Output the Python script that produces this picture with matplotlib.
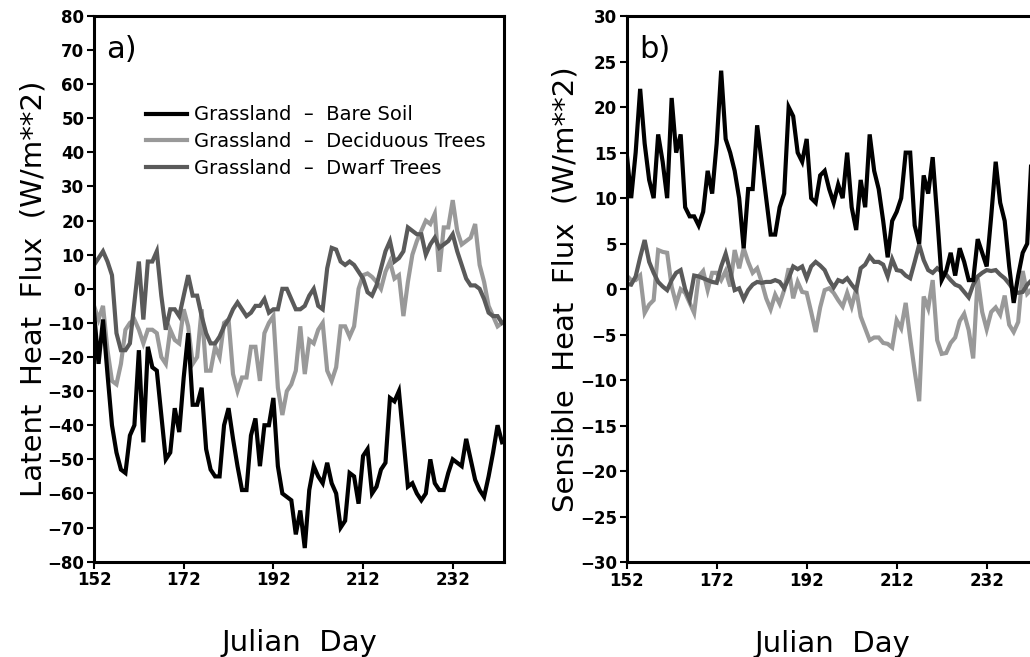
import numpy as np
import matplotlib
matplotlib.use("Agg")
import matplotlib.pyplot as plt

# julian days 152..243
days = np.arange(152, 244)

# latent heat flux differences (W/m**2)
lh_bare = [-7, -22, -9, -25, -40, -48, -53, -54, -43, -40,
           -18, -45, -17, -23, -24, -37, -50, -48, -35, -42,
           -26, -13, -34, -34, -29, -47, -53, -55, -55, -40,
           -35, -44, -52, -59, -59, -43, -38, -52, -40, -40,
           -32, -52, -60, -61, -62, -72, -65, -76, -59, -52,
           -55, -57, -51, -57, -60, -70, -68, -54, -55, -63,
           -49, -47, -60, -58, -53, -51, -32, -33, -30, -44,
           -58, -57, -60, -62, -60, -50, -57, -59, -59, -54,
           -50, -51, -52, -44, -50, -56, -59, -61, -55, -48,
           -40, -45]
lh_decid = [-5, -9, -5, -18, -27, -28, -22, -12, -10, -9,
            -12, -16, -12, -12, -13, -20, -22, -12, -15, -16,
            -6, -11, -22, -20, -6, -24, -24, -17, -20, -10,
            -9, -25, -30, -26, -26, -17, -17, -27, -13, -10,
            -8, -29, -37, -30, -28, -24, -11, -25, -15, -16,
            -12, -10, -24, -27, -23, -11, -11, -14, -11, 0,
            4, 4.5, 3.5, 2, 0, 5, 8, 3, 4, -8,
            2, 10, 14, 17, 20, 19, 22, 5, 18, 18,
            26, 17, 13, 14, 15, 19, 7, 2, -5, -8,
            -11, -10]
lh_dwarf = [7, 9, 11, 8, 4, -13, -18, -18, -16, -4,
            8, -9, 8, 8, 11, -2, -12, -6, -6, -8,
            -2, 4, -2, -2, -8, -13, -16, -16, -14, -11,
            -9, -6, -4, -6, -8, -7, -5, -5, -3, -7,
            -6, -6, 0, 0, -3, -6, -6, -5, -2, 0,
            -5, -6, 6, 12, 11.5, 8, 7, 8, 7, 5,
            3, -1, -2, 1, 6, 11, 14, 8, 9, 11,
            18, 17, 16, 16, 10, 13, 15, 12, 13, 14,
            16, 11, 7, 3, 1, 1, 0, -3, -7, -8,
            -8, -10]

# sensible heat flux differences (W/m**2)
sh_bare = [15, 10, 15, 22, 16, 12, 10, 17, 14, 10,
           21, 15, 17, 9, 8, 8, 7, 8.5, 13, 10.5,
           16, 24, 16.5, 15, 13, 10, 4.5, 11, 11, 18,
           14, 10, 6, 6, 9, 10.5, 20, 19, 15, 14,
           16.5, 10, 9.5, 12.5, 13, 11, 9.5, 11.5, 10, 15,
           9, 6.5, 12, 9, 17, 13, 11, 7.5, 3.5, 7.5,
           8.5, 10, 15, 15, 7, 5, 12.5, 10.5, 14.5, 8,
           1, 2, 4, 1.5, 4.5, 3, 1, 1, 5.5, 4,
           2.5, 8, 14, 9.5, 7.5, 2.5, -1.5, 1.5, 4, 5,
           15, 13]
sh_decid = [1.5, 1, 1, 1.5, -2.6, -1.7, -1.2, 4.3, 4.1, 4,
            0.3, -1.6, 0, -0.4, -1.5, -2.6, 1.4, 2, -0.1, 1.8,
            1.8, 1, 2, 0.3, 4.3, 2.3, 4.5, 3, 1.8, 2.3,
            0.8, -1, -2.2, -0.6, -1.6, -0.1, 2.3, -1, 0.8, -0.3,
            -0.4, -2.5, -4.7, -2, -0.1, 0.1, -0.4, -1.2, -1.9, -0.4,
            -1.9, 0, -3, -4.3, -5.6, -5.3, -5.3, -5.9, -6, -6.4,
            -3.4, -4.3, -1.5, -5.4, -9, -12.3, -0.8, -2.1, 1, -5.6,
            -7.1, -7, -5.9, -5.3, -3.5, -2.7, -4.5, -7.6, 1.2, -2.5,
            -4.4, -2.5, -2, -2.8, -0.7, -3.9, -4.7, -3.6, 2, -0.5,
            0, 0]
sh_dwarf = [0.6, 0.5, 1.4, 3.5, 5.4, 3, 1.8, 0.8, 0.3, -0.1,
            1, 1.8, 2.1, 0, -1.2, 1.5, 1.4, 1.2, 1, 0.8,
            0.7, 2.5, 3.9, 2, -0.1, 0.1, -1.1, -0.1, 0.5, 0.8,
            0.7, 0.8, 0.8, 1, 0.8, 0.1, 1.2, 2.5, 2.2, 2.5,
            1.2, 2.5, 3, 2.6, 2.1, 1, 0.2, 1, 0.8, 1.2,
            0.5, -0.1, 2.3, 2.7, 3.6, 3, 3, 2.7, 1.4, 3.3,
            2.1, 2, 1.5, 1.2, 3, 4.9, 3.2, 2.1, 1.8, 2.3,
            1.9, 1.6, 1, 0.5, 0.3, -0.3, -0.9, 0.5, 1.4, 1.8,
            2.1, 2, 2.1, 1.6, 1.2, 0.6, -0.1, -0.4, -0.3, 0.5,
            1, 1]

labels = ['Grassland  –  Bare Soil', 'Grassland  –  Deciduous Trees', 'Grassland  –  Dwarf Trees']
colors = ['#000000', '#999999', '#5a5a5a']
xticks = [152, 172, 192, 212, 232]

fig = plt.figure(figsize=(10.3, 6.57), dpi=100)
ax1 = fig.add_axes([0.0913, 0.1451, 0.3983, 0.8306])
ax2 = fig.add_axes([0.6084, 0.1440, 0.3998, 0.8316])

for ax, series, ylim, ystep, ylab, tag in [
        (ax1, [lh_bare, lh_decid, lh_dwarf], (-80, 80), 10, 'Latent  Heat  Flux  (W/m**2)', 'a)'),
        (ax2, [sh_bare, sh_decid, sh_dwarf], (-30, 30), 5, 'Sensible  Heat  Flux  (W/m**2)', 'b)')]:
    # grays first, black on top
    for i in [1, 2, 0]:
        ax.plot(days, series[i], color=colors[i], lw=3.0, label=labels[i], solid_joinstyle='miter')
    ax.set_xlim(152, 243.5)
    ax.set_ylim(*ylim)
    ax.set_xticks(xticks)
    ax.set_yticks(np.arange(ylim[0], ylim[1] + 1, ystep))
    ax.tick_params(direction='out', length=5, width=1.5, labelsize=12, pad=2)
    for lab in ax.get_xticklabels() + ax.get_yticklabels():
        lab.set_fontweight('bold')
    for sp in ax.spines.values():
        sp.set_linewidth(2.2)
    ax.set_ylabel(ylab, fontsize=21, labelpad=0)
    ax.set_xlabel('Julian  Day', fontsize=21)
    ax.xaxis.set_label_coords(0.5, -0.124)
    ax.text(0.03, 0.965, tag, transform=ax.transAxes, fontsize=22, va='top', ha='left')

h, l = ax1.get_legend_handles_labels()
order = [2, 0, 1]
ax1.legend([h[k] for k in order], [l[k] for k in order], loc='upper left',
           bbox_to_anchor=(0.127, 0.836), frameon=False, fontsize=14,
           handlelength=2.1, handletextpad=0.35, labelspacing=0.39, borderaxespad=0, borderpad=0)

plt.savefig('out.png', dpi=100)
